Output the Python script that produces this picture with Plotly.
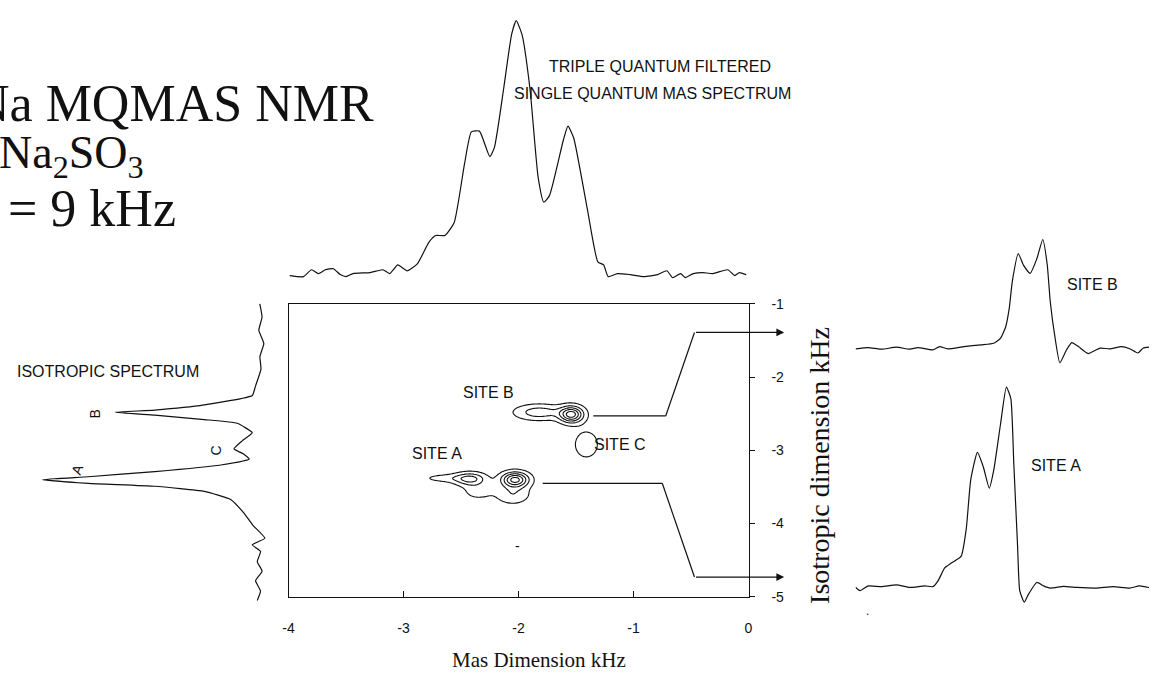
import numpy as np
import plotly.graph_objects as go

W, H = 1154, 681

# ---------------- data ----------------
# Top: triple-quantum filtered single-quantum MAS spectrum (MAS kHz, intensity)
mas_khz = [-3.99, -3.87, -3.80, -3.74, -3.68, -3.61, -3.55, -3.50, -3.44, -3.29, -3.18, -3.12,
           -3.05, -2.97, -2.88, -2.78, -2.72, -2.64, -2.56, -2.47, -2.41, -2.34, -2.25, -2.21,
           -2.13, -2.06, -2.02, -1.97, -1.90, -1.83, -1.78, -1.73, -1.61, -1.57, -1.52, -1.40,
           -1.31, -1.26, -1.22, -1.14, -1.03, -0.91, -0.79, -0.71, -0.66, -0.59, -0.55, -0.48,
           -0.40, -0.31, -0.18, -0.12, -0.08, -0.02]
mas_int = [-0.4, -0.8, 1.9, 0.4, 1.9, 2.3, 0.0, -0.8, 0.4, 0.8, 1.9, 0.4,
           3.8, 1.5, 4.2, 12.7, 15.4, 15.4, 20.4, 43.5, 56.2, 56.5, 46.5, 50.0,
           73.0, 94.6, 100.0, 94.6, 73.0, 38.5, 28.5, 31.2, 53.0, 58.5, 53.8, 25.4,
           5.0, 3.8, -0.8, 0.4, 0.0, -0.8, 0.0, 1.5, -1.2, 0.4, -1.2, 0.4,
           0.8, 0.4, 1.9, -0.4, 0.8, 0.0]

# Left: isotropic projection (isotropic kHz, intensity)
iso_khz = [-1.00, -1.18, -1.36, -1.54, -1.72, -1.89, -2.12, -2.25, -2.38, -2.45, -2.48, -2.52,
           -2.58, -2.63, -2.76, -2.87, -2.98, -3.05, -3.12, -3.20, -3.29, -3.36, -3.40, -3.45,
           -3.49, -3.56, -3.67, -3.85, -4.03, -4.20, -4.29, -4.38, -4.52, -4.65, -4.78, -4.92, -5.05]
iso_int = [0.45, -0.6, 0.9, -1.4, 0.4, -0.1, 2.4, 3.9, 25.9, 48.6, 66.8, 48.6,
           25.9, 10.8, 3.9, 8.5, 12.3, 7.9, 5.3, 18.3, 48.6, 79.0, 100.0, 79.0,
           48.6, 25.9, 13.8, 7.9, 3.4, -1.9, 3.9, 0.1, 1.6, -0.6, 2.4, 0.1, 1.6]

# Right: slices through site B and site A (MAS kHz, intensity)
siteB_khz = [-4.05, -3.88, -3.70, -3.50, -3.32, -3.21, -3.01, -2.92, -2.81, -2.59, -2.36, -2.19,
             -2.10, -2.03, -1.98, -1.94, -1.86, -1.79, -1.70, -1.61, -1.53, -1.47, -1.43, -1.37,
             -1.30, -1.21, -1.14, -1.05, -0.92, -0.76, -0.63, -0.47, -0.36, -0.25, -0.18, -0.10]
siteB_int = [0.0, 0.6, -0.2, 0.8, -0.2, 0.6, -0.5, 1.1, 0.0, 1.1, 2.0, 2.8,
             5.2, 10.9, 20.6, 33.7, 47.5, 41.8, 37.7, 45.0, 54.6, 42.0, 23.9, 6.8,
             -7.0, -0.5, 3.1, 1.1, -2.4, 0.3, 0.0, 1.1, 0.0, -2.1, 0.3, 0.8]

siteA_khz = [-4.05, -3.99, -3.88, -3.70, -3.50, -3.32, -3.12, -3.01, -2.94, -2.85, -2.76, -2.63,
             -2.56, -2.50, -2.41, -2.33, -2.25, -2.19, -2.10, -2.02, -1.96, -1.92, -1.87, -1.84,
             -1.78, -1.72, -1.61, -1.52, -1.43, -1.25, -1.07, -0.81, -0.58, -0.36, -0.23, -0.10]
siteA_int = [-0.1, -1.8, 0.6, 0.2, 1.1, -0.2, 0.6, 0.2, 3.1, 9.6, 12.0, 15.3,
             29.1, 53.5, 67.3, 60.0, 49.4, 58.4, 81.1, 99.9, 94.1, 61.6, 21.0, -1.8,
             -7.5, -3.4, 2.3, 0.6, -0.5, 0.3, -0.2, -0.5, 0.2, -0.5, 0.6, -0.2]

# 2D MQMAS contour peaks: (MAS kHz centre, isotropic kHz centre, MAS width, iso width, amplitude)
peak_mas = [-2.03, -2.42, -2.62, -2.05, -2.35, -1.54, -1.82, -1.41]
peak_iso = [-3.40, -3.39, -3.38, -3.60, -3.55, -2.51, -2.48, -2.92]
peak_wmas = [0.08, 0.09, 0.15, 0.10, 0.09, 0.07, 0.14, 0.09]
peak_wiso = [0.07, 0.06, 0.04, 0.09, 0.08, 0.075, 0.07, 0.16]
peak_amp = [1.0, 0.55, 0.2, 0.3, 0.22, 1.0, 0.45, 0.21]

mas_ticks = [-4, -3, -2, -1, 0]
iso_ticks = [-1, -2, -3, -4, -5]

# connector paths from contour sites to slices (MAS kHz, iso kHz)
pathB_mas = [-1.35, -0.72, -0.47, 0.31]
pathB_iso = [-2.53, -2.53, -1.39, -1.39]
pathA_mas = [-1.79, -0.75, -0.47, 0.31]
pathA_iso = [-3.45, -3.45, -4.73, -4.73]

# ---------------- helpers ----------------
def xd(p0, p1):
    return [p0 / W, p1 / W]

def yd(top, bottom):
    return [1 - bottom / H, 1 - top / H]

LINE = dict(color="#111111", width=1.2)
SANS = "Liberation Sans, Arial, sans-serif"
SERIF = "Liberation Serif, Times New Roman, serif"

fig = go.Figure()

# 2D contour
gx = np.linspace(-4, 0, 321)
gy = np.linspace(-5, -1, 321)
XX, YY = np.meshgrid(gx, gy)
Z = np.zeros_like(XX)
for cx, cy, sx, sy, a in zip(peak_mas, peak_iso, peak_wmas, peak_wiso, peak_amp):
    Z += a * np.exp(-((XX - cx) ** 2) / (2 * sx ** 2) - ((YY - cy) ** 2) / (2 * sy ** 2))

fig.add_trace(go.Contour(
    x=gx, y=gy, z=Z, xaxis="x", yaxis="y",
    contours=dict(start=0.12, end=0.92, size=0.2, coloring="lines"),
    colorscale=[[0, "#111111"], [1, "#111111"]],
    line=dict(width=1.1, smoothing=1), showscale=False, hoverinfo="skip",
))

fig.add_trace(go.Scatter(x=mas_khz, y=mas_int, mode="lines", line=dict(**LINE, shape="spline", smoothing=0.5),
                         xaxis="x2", yaxis="y2", showlegend=False))
fig.add_trace(go.Scatter(x=iso_int, y=iso_khz, mode="lines", line=dict(**LINE, shape="spline", smoothing=0.4),
                         xaxis="x3", yaxis="y3", showlegend=False))
fig.add_trace(go.Scatter(x=siteB_khz, y=siteB_int, mode="lines", line=dict(**LINE, shape="spline", smoothing=0.5),
                         xaxis="x4", yaxis="y4", showlegend=False))
fig.add_trace(go.Scatter(x=siteA_khz, y=siteA_int, mode="lines", line=dict(**LINE, shape="spline", smoothing=0.5),
                         xaxis="x5", yaxis="y5", showlegend=False))

hidden = dict(visible=False, showgrid=False, zeroline=False)

fig.update_layout(
    width=W, height=H, margin=dict(l=0, r=0, t=0, b=0),
    paper_bgcolor="white", plot_bgcolor="rgba(0,0,0,0)", showlegend=False,
    xaxis=dict(domain=xd(285, 749), range=[-4, 0], anchor="y", showline=True, mirror=True,
               linecolor="#111111", linewidth=1.2, ticks="inside", ticklen=6, tickcolor="#111111",
               tickvals=mas_ticks, ticktext=[str(t) for t in mas_ticks],
               tickfont=dict(family=SANS, size=14, color="#111111"), ticklabelstandoff=18,
               showgrid=False, zeroline=False),
    yaxis=dict(domain=yd(303, 603), range=[-5, -1], anchor="x", side="right", showline=True, mirror=True,
               linecolor="#111111", linewidth=1.2, ticks="outside", ticklen=5, tickcolor="#111111",
               tickvals=iso_ticks, ticktext=[str(t) for t in iso_ticks],
               tickfont=dict(family=SANS, size=14, color="#111111"), ticklabelstandoff=14,
               showgrid=False, zeroline=False),
    xaxis2=dict(domain=xd(285, 749), range=[-4, 0], anchor="y2", **hidden),
    yaxis2=dict(domain=yd(7.8, 286), range=[-5, 102], anchor="x2", **hidden),
    xaxis3=dict(domain=xd(15, 279), range=[110, -10], anchor="y3", **hidden),
    yaxis3=dict(domain=yd(295.5, 610.5), range=[-5.1, -0.9], anchor="x3", **hidden),
    xaxis4=dict(domain=xd(857, 1153), range=[-4.05, -0.1], anchor="y4", **hidden),
    yaxis4=dict(domain=yd(226, 369.5), range=[-10, 60], anchor="x4", **hidden),
    xaxis5=dict(domain=xd(857, 1153), range=[-4.05, -0.1], anchor="y5", **hidden),
    yaxis5=dict(domain=yd(383.9, 613.5), range=[-10, 102], anchor="x5", **hidden),
)

# connector lines
shapes = []
for px_, py_ in ((pathB_mas, pathB_iso), (pathA_mas, pathA_iso)):
    for i in range(2):
        shapes.append(dict(type="line", xref="x", yref="y", x0=px_[i], y0=py_[i], x1=px_[i + 1], y1=py_[i + 1],
                           line=dict(color="#111111", width=1.2)))
fig.update_layout(shapes=shapes)

annotations = []
for px_, py_ in ((pathB_mas, pathB_iso), (pathA_mas, pathA_iso)):
    annotations.append(dict(x=px_[3], y=py_[3], ax=px_[2], ay=py_[2], xref="x", yref="y", axref="x", ayref="y",
                            text="", showarrow=True, arrowhead=2, arrowsize=1.3, arrowwidth=1.2,
                            arrowcolor="#111111", standoff=0))

def txt(s, x, y, size=16, family=SANS, xanchor="center", angle=0):
    annotations.append(dict(text=s, x=x / W, y=1 - y / H, xref="paper", yref="paper", showarrow=False,
                            xanchor=xanchor, yanchor="middle", textangle=angle,
                            font=dict(family=family, size=size, color="#111111")))

# title block
txt("Na MQMAS NMR", 373, 98, size=52, family=SERIF, xanchor="right")
txt("Na<sub>2</sub>SO<sub>3</sub>", -9, 152, size=46, family=SERIF, xanchor="left")
txt("= 9 kHz", 174, 205, size=52, family=SERIF, xanchor="right")

txt("TRIPLE QUANTUM FILTERED", 660, 60)
txt("SINGLE QUANTUM MAS SPECTRUM", 652, 88)
txt("ISOTROPIC SPECTRUM", 103, 372)
txt("B", 90, 416, size=14, angle=-90)
txt("C", 212, 453, size=14, angle=-90)
txt("A", 72, 472, size=14, angle=-70)
txt("SITE B", 487, 394)
txt("SITE A", 435, 456)
txt("SITE C", 619, 447)
txt("-", 516, 551, size=14)
txt("SITE B", 1096, 283)
txt("SITE A", 1059, 468)
txt(".", 869, 617, size=12)
txt("Isotropic dimension kHz", 820, 468, size=28, family=SERIF, angle=-90)
txt("Mas Dimension kHz", 538, 668, size=21, family=SERIF)

fig.update_layout(annotations=annotations)

fig.write_html("out.html", config={"displayModeBar": False},
               post_script="document.body.style.margin='0px';document.body.style.padding='0px';")
